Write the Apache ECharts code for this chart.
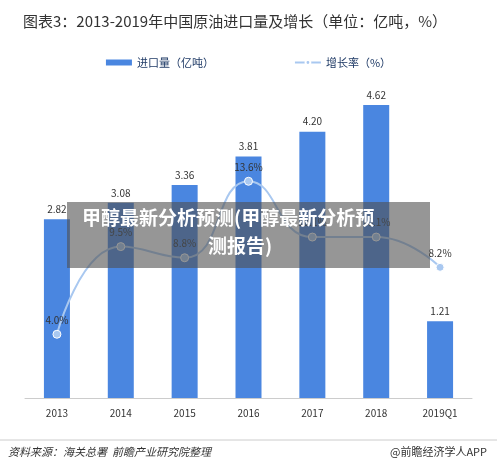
<!DOCTYPE html><html><head><meta charset="utf-8"><script src="https://cdn.jsdelivr.net/npm/echarts@6/dist/echarts.min.js"></script></head><body style="margin:0"><div id="c" style="width:497px;height:472px"></div><script>
const categories=['2013','2014','2015','2016','2017','2018','2019Q1'];
const imports=[2.82,3.08,3.36,3.81,4.20,4.62,1.21];
const growth=[4.0,9.5,8.8,13.6,10.1,10.1,8.2];
const F='"Noto Sans CJK SC","Noto Sans",sans-serif';
const ch=echarts.init(document.getElementById('c'));
ch.setOption({
 animation:false,
 title:{text:'图表3：2013-2019年中国原油进口量及增长（单位：亿吨，%）',left:18,top:9,textStyle:{fontFamily:F,fontSize:15,fontWeight:'normal',color:'#333'}},
 legend:{top:52,itemGap:80,itemWidth:26,itemHeight:6,textStyle:{fontFamily:F,fontSize:11,color:'#1f3a66'},data:[{name:'进口量（亿吨）',icon:'rect'},{name:'增长率（%）'}]},
 grid:{left:25,right:25,top:100,bottom:74},
 xAxis:{type:'category',data:categories,axisTick:{show:false},axisLine:{lineStyle:{color:'#ccc'}},axisLabel:{fontFamily:F,fontSize:10,color:'#333',margin:10}},
 yAxis:[{type:'value',min:0,max:4.7,show:false},{type:'value',min:0,max:18.7,show:false}],
 series:[
  {name:'进口量（亿吨）',type:'bar',data:imports,barWidth:26,itemStyle:{color:'#4a86e0'},label:{show:true,position:'top',formatter:p=>p.value.toFixed(2),fontFamily:F,fontSize:10,color:'#333'}},
  {name:'增长率（%）',type:'line',yAxisIndex:1,data:growth,smooth:true,symbol:'circle',symbolSize:8,lineStyle:{color:'#a9c8f0',width:2},itemStyle:{color:'#a9c8f0',borderColor:'#fff',borderWidth:1},label:{show:true,position:'top',formatter:p=>p.value.toFixed(1)+'%',fontFamily:F,fontSize:10,color:'#333'}}
 ],
 graphic:[
  {type:'rect',left:67,top:202,shape:{width:363,height:66},style:{fill:'rgba(80,80,80,0.6)'},z:100},
  {type:'text',left:82,top:208,style:{text:'甲醇最新分析预测(甲醇最新分析预',fill:'#fff',font:'bold 19px '+F},z:101},
  {type:'text',left:208,top:236,style:{text:'测报告)',fill:'#fff',font:'bold 19px '+F},z:101},
  {type:'line',shape:{x1:0,y1:440,x2:497,y2:440},style:{stroke:'#ccc',lineWidth:1}},
  {type:'text',left:8,top:446,style:{text:'资料来源：海关总署  前瞻产业研究院整理',fill:'#333',font:'italic 11px '+F}},
  {type:'text',right:10,top:446,style:{text:'@前瞻经济学人APP',fill:'#333',font:'11px '+F}}
 ]
});
</script></body></html>
